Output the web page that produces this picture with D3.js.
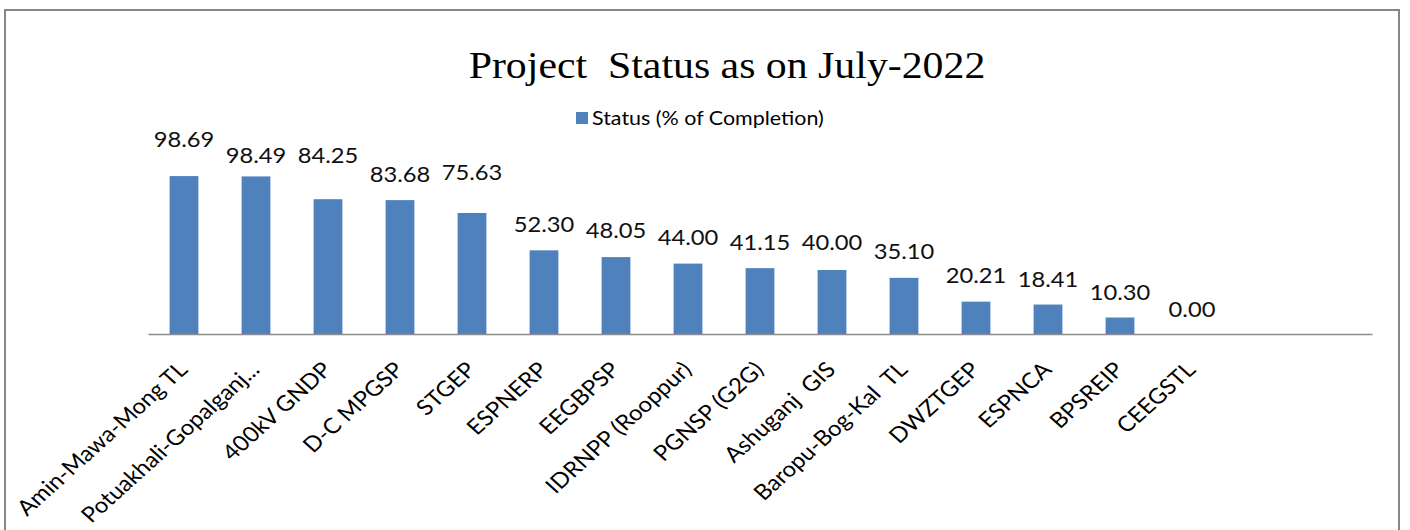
<!DOCTYPE html>
<html><head><meta charset="utf-8">
<script src="https://cdn.jsdelivr.net/npm/d3@7"></script>
<style>
html,body{margin:0;padding:0;background:#fff;}
svg{display:block;}
</style></head>
<body>
<script>
// ---- data ----
const categories = ["Amin-Mawa-Mong TL","Potuakhali-Gopalganj...","400kV GNDP","D-C MPGSP","STGEP","ESPNERP","EEGBPSP","IDRNPP (Rooppur)","PGNSP (G2G)","Ashuganj  GIS","Baropu-Bog-Kal  TL","DWZTGEP","ESPNCA","BPSREIP","CEEGSTL","",""];
const values = [98.69,98.49,84.25,83.68,75.63,52.30,48.05,44.00,41.15,40.00,35.10,20.21,18.41,10.30,0.00,null,null];
const labels = ["98.69","98.49","84.25","83.68","75.63","52.30","48.05","44.00","41.15","40.00","35.10","20.21","18.41","10.30","0.00","",""];
const seriesName = "Status (% of Completion)";
const title = "Project  Status as on July-2022";
const yDomain = [0,120];

// ---- layout ----
const W=1410,H=530;
const labelGap = [29,13,36,18,33,18,19,19,18,20,19,19,18,18,17,0,0];
const SX = 1.13; // horizontal stretch of the source image

const svg = d3.select("body").append("svg").attr("width",W).attr("height",H);
svg.append("rect").attr("x",5).attr("y",10).attr("width",1394).attr("height",560)
  .attr("fill","#fff").attr("stroke","#868686").attr("stroke-width",2);

const x = d3.scaleBand().domain(d3.range(categories.length)).range([148,1372]).paddingInner(0.6).paddingOuter(0.3);
const y = d3.scaleLinear().domain(yDomain).range([334,142]);

// title
svg.append("text").attr("transform",`translate(727,78) scale(1.1,1)`)
  .attr("text-anchor","middle").attr("font-family","'Liberation Serif','Times New Roman',serif")
  .attr("font-size",38).attr("fill","#000").attr("xml:space","preserve").text(title);

// legend
svg.append("rect").attr("x",576).attr("y",112).attr("width",12).attr("height",12).attr("fill","#4F81BD");
svg.append("text").attr("transform",`translate(592,125) scale(${SX},1)`)
  .attr("font-family","Lato,'Open Sans',sans-serif").attr("font-size",19).attr("fill","#000").text(seriesName);

// bars
const data = values.map((v,i)=>({i,v,cat:categories[i],lab:labels[i]})).filter(d=>d.v!==null);
svg.append("g").selectAll("rect").data(data).join("rect")
  .attr("x",d=>x(d.i)).attr("width",x.bandwidth())
  .attr("y",d=>y(d.v)).attr("height",d=>y(0)-y(d.v))
  .attr("fill","#4F81BD");

// axis
const axis = d3.axisBottom(x).tickSize(0).tickFormat(()=> "");
const ag = svg.append("g").attr("transform",`translate(0,${y(0)})`).call(axis);
ag.select(".domain").attr("stroke","#8c8c8c").attr("stroke-width",1.5);

// data labels
svg.append("g").selectAll("text").data(data).join("text")
  .attr("transform",d=>`translate(${x(d.i)+x.bandwidth()/2},${y(d.v)-labelGap[d.i]}) scale(${SX},1)`)
  .attr("text-anchor","middle").attr("font-family","Lato,'Open Sans',sans-serif")
  .attr("font-size",21).attr("fill","#111").text(d=>d.lab);

// category labels
svg.append("g").selectAll("text").data(categories.map((c,i)=>({c,i})).filter(d=>d.c)).join("text")
  .attr("transform",d=>`translate(${x(d.i)+x.bandwidth()/2+5},${y(0)+37}) scale(1.11,1) rotate(-45)`)
  .attr("text-anchor","end").attr("xml:space","preserve")
  .attr("font-family","Lato,'Open Sans',sans-serif").attr("font-size",21.5).attr("fill","#000").text(d=>d.c);
</script>
</body></html>
